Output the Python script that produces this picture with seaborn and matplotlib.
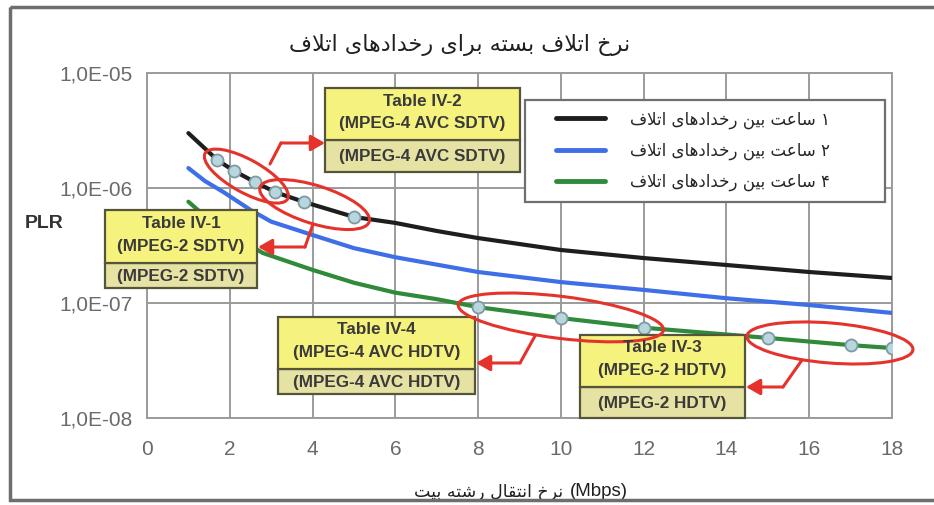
import numpy as np
import pandas as pd
import matplotlib
matplotlib.use("Agg")
import matplotlib.pyplot as plt
import matplotlib.transforms as mtransforms
from matplotlib.patches import Rectangle, Ellipse
from matplotlib.lines import Line2D
from matplotlib.legend_handler import HandlerLine2D
from matplotlib.ticker import FixedLocator, FuncFormatter, NullLocator
import seaborn as sns

# ---------------- data ----------------
rate_1h = [1.0, 1.7, 2.1, 2.6, 3.1, 3.8, 5.0, 6.0, 7.0, 8.0, 10.0, 12.0, 14.0, 16.0, 18.0]
plr_1h = [3.0e-6, 1.75e-6, 1.41e-6, 1.13e-6, 9.2e-7, 7.55e-7, 5.6e-7, 4.97e-7, 4.23e-7,
          3.67e-7, 2.89e-7, 2.46e-7, 2.14e-7, 1.86e-7, 1.65e-7]
rate_2h = [1.0, 1.4, 1.85, 2.5, 3.0, 4.0, 5.0, 6.0, 8.0, 10.0, 12.0, 14.0, 16.0, 18.0]
plr_2h = [1.49e-6, 1.15e-6, 9.2e-7, 6.45e-7, 5.1e-7, 3.9e-7, 3.0e-7, 2.5e-7, 1.86e-7,
          1.52e-7, 1.30e-7, 1.10e-7, 9.6e-8, 8.2e-8]
rate_4h = [1.0, 1.5, 2.0, 2.8, 4.0, 5.0, 6.0, 7.0, 8.0, 10.0, 12.0, 15.0, 17.0, 18.0]
plr_4h = [7.6e-7, 5.3e-7, 4.0e-7, 2.72e-7, 1.94e-7, 1.5e-7, 1.23e-7, 1.08e-7, 9.2e-8,
          7.4e-8, 6.1e-8, 4.97e-8, 4.3e-8, 4.06e-8]

# marked operating points
sd_rate = [1.7, 2.1, 2.6, 3.1, 3.8, 5.0]
sd_plr = [1.75e-6, 1.41e-6, 1.13e-6, 9.2e-7, 7.55e-7, 5.6e-7]
hd_rate = [8.0, 10.0, 12.0, 15.0, 17.0, 18.0]
hd_plr = [9.2e-8, 7.4e-8, 6.1e-8, 4.97e-8, 4.3e-8, 4.06e-8]

series_labels = ["۱ ساعت بین رخدادهای اتلاف", "۲ ساعت بین رخدادهای اتلاف", "۴ ساعت بین رخدادهای اتلاف"]
title_text = "نرخ اتلاف بسته برای رخدادهای اتلاف"
xlabel_text = "نرخ انتقال رشته بیت"
xlabel_unit = "(Mbps)"
ylabel_text = "PLR"
x_ticks = [0, 2, 4, 6, 8, 10, 12, 14, 16, 18]
y_ticks = [1e-8, 1e-7, 1e-6, 1e-5]
table_titles = ["Table IV-2", "Table IV-1", "Table IV-4", "Table IV-3"]
table_subs = ["(MPEG-4 AVC SDTV)", "(MPEG-2 SDTV)", "(MPEG-4 AVC HDTV)", "(MPEG-2 HDTV)"]

# ---------------- minimal Persian shaping (matplotlib has no bidi) ----------------
_FORMS = {
    '\u0627': ('\uFE8D', '\uFE8E', None, None),
    '\u0628': ('\uFE8F', '\uFE90', '\uFE91', '\uFE92'),
    '\u062A': ('\uFE95', '\uFE96', '\uFE97', '\uFE98'),
    '\u062E': ('\uFEA5', '\uFEA6', '\uFEA7', '\uFEA8'),
    '\u062F': ('\uFEA9', '\uFEAA', None, None),
    '\u0631': ('\uFEAD', '\uFEAE', None, None),
    '\u0633': ('\uFEB1', '\uFEB2', '\uFEB3', '\uFEB4'),
    '\u0634': ('\uFEB5', '\uFEB6', '\uFEB7', '\uFEB8'),
    '\u0639': ('\uFEC9', '\uFECA', '\uFECB', '\uFECC'),
    '\u0641': ('\uFED1', '\uFED2', '\uFED3', '\uFED4'),
    '\u0642': ('\uFED5', '\uFED6', '\uFED7', '\uFED8'),
    '\u0644': ('\uFEDD', '\uFEDE', '\uFEDF', '\uFEE0'),
    '\u0646': ('\uFEE5', '\uFEE6', '\uFEE7', '\uFEE8'),
    '\u0647': ('\uFEE9', '\uFEEA', '\uFEEB', '\uFEEC'),
    '\u06CC': ('\uFBFC', '\uFBFD', '\uFBFE', '\uFBFF'),
}
_LAM_ALEF = ('\uFEFB', '\uFEFC')


def rtl(text):
    units, i = [], 0
    while i < len(text):
        if text[i] == '\u0644' and i + 1 < len(text) and text[i + 1] == '\u0627':
            units.append('LA'); i += 2
        else:
            units.append(text[i]); i += 1

    def is_letter(u):
        return u == 'LA' or u in _FORMS

    def joins_next(u):
        return u in _FORMS and _FORMS[u][2] is not None

    out = []
    for k, u in enumerate(units):
        if not is_letter(u):
            out.append(u); continue
        prev = units[k - 1] if k > 0 else None
        nxt = units[k + 1] if k + 1 < len(units) else None
        jp = prev is not None and joins_next(prev)
        if u == 'LA':
            out.append(_LAM_ALEF[1] if jp else _LAM_ALEF[0]); continue
        jn = joins_next(u) and nxt is not None and is_letter(nxt)
        iso, fin, ini, med = _FORMS[u]
        out.append(med if (jp and jn) else fin if jp else ini if jn else iso)
    return ''.join(out)[::-1]


class InsetLineHandler(HandlerLine2D):
    """Legend line drawn only on the right part of the handle box."""
    def create_artists(self, legend, orig_handle, xdescent, ydescent, width, height,
                       fontsize, trans):
        arts = super().create_artists(legend, orig_handle, xdescent, ydescent, width,
                                      height, fontsize, trans)
        for a in arts:
            xd = np.asarray(a.get_xdata(), dtype=float)
            if xd.size >= 2:
                lo, hi = xd.min(), xd.max()
                a.set_xdata(np.linspace(lo + 0.3 * (hi - lo), hi, xd.size))
        return arts


# ---------------- figure ----------------
sns.set_theme(style="white")
plt.rcParams['font.family'] = ['Liberation Sans', 'DejaVu Sans']
W, H = 934, 505
fig = plt.figure(figsize=(W / 100, H / 100), dpi=100)
fig.patch.set_facecolor("white")
ax = fig.add_axes([147 / W, 1 - 418 / H, 745 / W, 345 / H])
ax.set_facecolor("white")

# pixel transform (image coordinates, y downward)
T = mtransforms.Affine2D().scale(1 / W, -1 / H).translate(0, 1) + fig.transFigure

c_black, c_blue, c_green = "#1e1e1e", "#3f6fe6", "#2f8a3a"
frames = []
for xs, ys, lab in [(rate_1h, plr_1h, series_labels[0]),
                    (rate_2h, plr_2h, series_labels[1]),
                    (rate_4h, plr_4h, series_labels[2])]:
    frames.append(pd.DataFrame({"rate": xs, "plr": ys, "series": lab}))
df = pd.concat(frames, ignore_index=True)
sns.lineplot(data=df, x="rate", y="plr", hue="series",
             palette=[c_black, c_blue, c_green], linewidth=3, estimator=None,
             sort=False, legend=False, ax=ax, zorder=3)

mk = dict(s=75, color="#b8d6de", edgecolor="#7d9aa2", linewidth=1.3, zorder=6, ax=ax, legend=False)
sns.scatterplot(x=sd_rate, y=sd_plr, **mk)
sns.scatterplot(x=hd_rate, y=hd_plr, **mk)

ax.set_yscale("log")
ax.set_xlim(0, 18)
ax.set_ylim(1e-8, 1e-5)
ax.xaxis.set_major_locator(FixedLocator(x_ticks))
ax.yaxis.set_major_locator(FixedLocator(y_ticks))
ax.yaxis.set_minor_locator(NullLocator())
ax.yaxis.set_major_formatter(FuncFormatter(lambda v, p: "1,0E-%02d" % int(round(-np.log10(v)))))
ax.set_xlabel("")
ax.set_ylabel("")
grid_c = "#9b9b9b"
ax.grid(True, color=grid_c, linewidth=1.4)
ax.set_axisbelow(True)
for s in ax.spines.values():
    s.set_color(grid_c)
    s.set_linewidth(1.4)
ax.tick_params(axis="both", which="major", length=5, width=1.4, color=grid_c,
               labelsize=15, labelcolor="#6a6a6a", direction="out")
ax.tick_params(axis="x", pad=11)
ax.tick_params(axis="y", pad=5)

# legend
handles = [Line2D([], [], color=c, lw=3.5) for c in (c_black, c_blue, c_green)]
leg = ax.legend(handles, [rtl(t) for t in series_labels], loc="upper left",
                bbox_to_anchor=((525 - 147) / 745, (418 - 200) / 345, 360 / 745, 100 / 345),
                mode="expand", borderaxespad=0, frameon=True, fancybox=False,
                framealpha=1, edgecolor="#6f6f6f", handlelength=4.2, handletextpad=1.5,
                borderpad=0.62, labelspacing=0.78,
                handler_map={Line2D: InsetLineHandler()},
                prop={"family": "DejaVu Sans", "size": 12})
leg.get_frame().set_linewidth(1.6)
leg.set_zorder(10)

# titles
fig.text(460, 45, rtl(title_text), transform=T, ha="center", va="center",
         fontsize=16, color="#202020", family="DejaVu Sans")
fig.text(563, 492, rtl(xlabel_text), transform=T, ha="right", va="center",
         fontsize=12.5, color="#202020", family="DejaVu Sans")
fig.text(570, 492, xlabel_unit, transform=T, ha="left", va="center",
         fontsize=13.5, color="#202020", family="Liberation Sans")
fig.text(44, 224, ylabel_text, transform=T, ha="center", va="center",
         fontsize=14, fontweight="bold", color="#333333", family="Liberation Sans")

# outer frame
fig.add_artist(Rectangle((10, 7), 940, 493, transform=T, fill=False,
                         edgecolor="#6e6e6e", linewidth=2.5, zorder=20))

# ---------- callout ellipses computed from the marked points ----------
def to_px(x, y):
    d = ax.transData.transform((x, y))
    return T.inverted().transform(d)

red = "#e5332b"
groups = [(sd_rate[0:4], sd_plr[0:4], 28, 33),
          (sd_rate[3:6], sd_plr[3:6], 32, 38),
          (hd_rate[0:3], hd_plr[0:3], 40, 42),
          (hd_rate[3:6], hd_plr[3:6], 42, 40)]
for xs, ys, pad, minor in groups:
    p0 = to_px(xs[0], ys[0])
    p1 = to_px(xs[-1], ys[-1])
    c = (p0 + p1) / 2
    d = p1 - p0
    length = np.hypot(*d)
    ang = np.degrees(np.arctan2(d[1], d[0]))
    fig.add_artist(Ellipse(c, length + pad, minor, angle=ang, transform=T,
                           fill=False, edgecolor=red, linewidth=2.2, zorder=8))

# ---------- table boxes ----------
boxes = [  # x0, x1, top, split, bottom
    (325, 520, 88, 140, 172),
    (105, 257, 210, 263, 288),
    (278, 475, 317, 369, 394),
    (580, 745, 335, 387, 418),
]
for (x0, x1, t, m, b), ttl, sub in zip(boxes, table_titles, table_subs):
    fig.add_artist(Rectangle((x0, m), x1 - x0, b - m, transform=T, facecolor="#e6e2a4",
                             edgecolor="#55553a", linewidth=1.6, zorder=7))
    fig.add_artist(Rectangle((x0, t), x1 - x0, m - t, transform=T, facecolor="#f6f27e",
                             edgecolor="#55553a", linewidth=1.6, zorder=7))
    xc = (x0 + x1) / 2
    h = m - t
    fig.text(xc, t + h * 0.25, ttl, transform=T, ha="center", va="center", fontsize=12.3,
             fontweight="bold", color="#3a3a3a", zorder=9)
    fig.text(xc, t + h * 0.68, sub, transform=T, ha="center", va="center", fontsize=12.3,
             fontweight="bold", color="#3a3a3a", zorder=9)
    fig.text(xc, (m + b) / 2 + 1, sub, transform=T, ha="center", va="center", fontsize=12.3,
             fontweight="bold", color="#3a3a3a", zorder=9)

# ---------- connector arrows ----------
connectors = [
    [(270, 164), (281, 143), (325, 143)],
    [(313, 224), (305, 247), (258, 247)],
    [(535, 336), (520, 363), (476, 363)],
    [(802, 360), (783, 387), (746, 387)],
]
for pts in connectors:
    xs_, ys_ = zip(*pts[:-1])
    fig.add_artist(Line2D(list(xs_), list(ys_), transform=T, color=red, linewidth=2.2,
                          solid_capstyle="round", zorder=8))
    ann = ax.annotate("", xy=pts[-1], xytext=pts[-2], xycoords=T, textcoords=T,
                      arrowprops=dict(arrowstyle="-|>,head_length=0.7,head_width=0.4",
                                      color=red, lw=2.2, shrinkA=0, shrinkB=0),
                      annotation_clip=False)
    ann.set_zorder(12)

fig.savefig("out.png", dpi=100, facecolor="white")
